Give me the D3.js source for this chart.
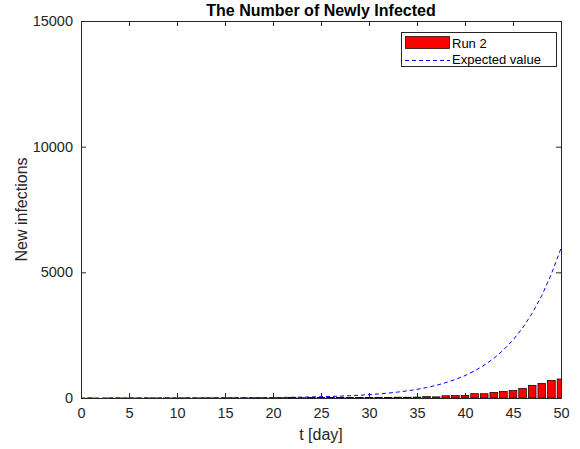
<!DOCTYPE html>
<html>
<head>
<meta charset="utf-8">
<script src="https://cdn.jsdelivr.net/npm/d3@7"></script>
<style>
  html, body { margin: 0; padding: 0; background: #fff; }
  svg { display: block; font-family: "Liberation Sans", Arial, Helvetica, sans-serif; }
</style>
</head>
<body>
<svg id="chart" width="580" height="449"></svg>
<script>
// Daily new infections of one simulated run
const runDays = [1,2,3,4,5,6,7,8,9,10,11,12,13,14,15,16,17,18,19,20,21,22,23,24,25,
                 26,27,28,29,30,31,32,33,34,35,36,37,38,39,40,41,42,43,44,45,46,47,48,49,50];
const runCounts = [1,0,1,2,1,2,3,2,4,3,5,4,6,5,7,8,7,10,9,12,11,14,13,16,15,
                   18,20,19,24,22,28,26,33,31,38,55,45,90,95,105,172,170,225,265,305,385,505,584,703,756];

// Expected number of new infections per day
const expDays = [0,1,2,3,4,5,6,7,8,9,10,11,12,13,14,15,16,17,18,19,20,21,22,23,24,25,
                 26,27,28,29,30,31,32,33,34,35,36,37,38,39,40,41,42,43,44,45,46,47,48,49,50];
const expValues = [0.45,0.54,0.65,0.8,1.0,1.2,1.4,1.7,2.0,2.5,3.0,3.6,4.4,5.3,6.4,7.7,9.3,11.3,13.6,16.5,
                   20,24,29,35,43,52,62,75,91,110,133,161,195,236,285,345,417,504,610,737,
                   891,1078,1304,1576,1908,2307,2789,3372,4077,4930,5960];

const xTicks = [0,5,10,15,20,25,30,35,40,45,50];
const yTicks = [0,5000,10000,15000];

const svg = d3.select("#chart");
const plotL = 81, plotR = 561, plotT = 21, plotB = 398;
const axisColor = "#262626";
const tickLen = 5;

const x = d3.scaleLinear().domain([0, 50]).range([plotL, plotR]);
const y = d3.scaleLinear().domain([0, 15000]).range([plotB, plotT]);

svg.append("defs").append("clipPath").attr("id", "plot-area")
  .append("rect").attr("x", plotL).attr("y", plotT)
  .attr("width", plotR - plotL).attr("height", plotB - plotT);

// Bars
const barW = (x(1) - x(0)) * 0.8;
svg.append("g").attr("clip-path", "url(#plot-area)")
  .selectAll("rect").data(runDays.map((d, i) => [d, runCounts[i]])).join("rect")
  .attr("x", d => x(d[0]) - barW / 2)
  .attr("y", d => y(d[1]))
  .attr("width", barW)
  .attr("height", d => y(0) - y(d[1]))
  .attr("fill", "#ff0000")
  .attr("stroke", "#000")
  .attr("stroke-width", 0.7);

// Expected value curve
const line = d3.line().x(d => x(d[0])).y(d => y(d[1]));
svg.append("path")
  .datum(expDays.map((d, i) => [d, expValues[i]]))
  .attr("clip-path", "url(#plot-area)")
  .attr("d", line)
  .attr("fill", "none")
  .attr("stroke", "#0000ff")
  .attr("stroke-width", 1)
  .attr("stroke-dasharray", "4,3");

// Axes: bottom/left with labels, top/right mirrored ticks only
const fmt = d3.format("d");
const gx = svg.append("g").attr("transform", `translate(0,${plotB})`)
  .call(d3.axisBottom(x).tickValues(xTicks).tickFormat(fmt).tickSizeInner(-tickLen).tickSizeOuter(0).tickPadding(10));
const gxt = svg.append("g").attr("transform", `translate(0,${plotT})`)
  .call(d3.axisTop(x).tickValues(xTicks).tickFormat("").tickSizeInner(-tickLen).tickSizeOuter(0));
const gy = svg.append("g").attr("transform", `translate(${plotL},0)`)
  .call(d3.axisLeft(y).tickValues(yTicks).tickFormat(fmt).tickSizeInner(-tickLen).tickSizeOuter(0).tickPadding(8));
const gyr = svg.append("g").attr("transform", `translate(${plotR},0)`)
  .call(d3.axisRight(y).tickValues(yTicks).tickFormat("").tickSizeInner(-tickLen).tickSizeOuter(0));

[gx, gxt, gy, gyr].forEach(g => {
  g.select(".domain").attr("stroke", axisColor).attr("stroke-width", 1);
  g.selectAll(".tick line").attr("stroke", axisColor).attr("stroke-width", 1);
  g.selectAll(".tick text").attr("fill", axisColor)
    .style("font-size", "14.5px").style("font-family", "'Liberation Sans', Arial, sans-serif");
});

// Axis titles
svg.append("text")
  .attr("x", (plotL + plotR) / 2).attr("y", 440)
  .attr("text-anchor", "middle").attr("fill", axisColor)
  .style("font-size", "16px")
  .text("t [day]");
svg.append("text")
  .attr("transform", `translate(27,${(plotT + plotB) / 2}) rotate(-90)`)
  .attr("text-anchor", "middle").attr("fill", axisColor)
  .style("font-size", "16px")
  .text("New infections");
svg.append("text")
  .attr("x", (plotL + plotR) / 2).attr("y", 16)
  .attr("text-anchor", "middle").attr("fill", "#000")
  .style("font-size", "16px").style("font-weight", "bold")
  .text("The Number of Newly Infected");

// Legend
const lg = svg.append("g");
lg.append("rect").attr("x", 401.5).attr("y", 32.5).attr("width", 155).attr("height", 34)
  .attr("fill", "#fff").attr("stroke", axisColor).attr("stroke-width", 1);
lg.append("rect").attr("x", 405.5).attr("y", 36.5).attr("width", 44).attr("height", 12)
  .attr("fill", "#ff0000").attr("stroke", "#000").attr("stroke-width", 0.7);
lg.append("line").attr("x1", 405).attr("x2", 450).attr("y1", 60.5).attr("y2", 60.5)
  .attr("stroke", "#0000ff").attr("stroke-width", 1).attr("stroke-dasharray", "4,3");
lg.append("text").attr("x", 452).attr("y", 47.5).attr("fill", "#000")
  .style("font-size", "13px").text("Run 2");
lg.append("text").attr("x", 452).attr("y", 64).attr("fill", "#000")
  .style("font-size", "13px").text("Expected value");
</script>
</body>
</html>
